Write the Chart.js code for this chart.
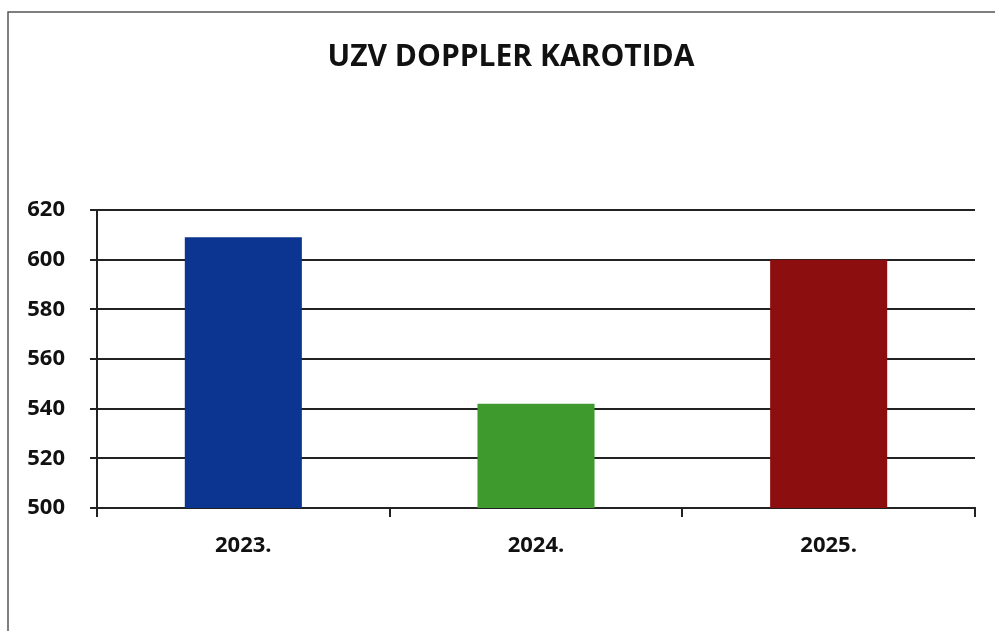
<!DOCTYPE html>
<html>
<head>
<meta charset="utf-8">
<script src="https://cdn.jsdelivr.net/npm/chart.js@4/dist/chart.umd.min.js"></script>
<style>
  html, body { margin: 0; padding: 0; background: #fff; }
  #wrap { position: absolute; left: 0; top: 0; width: 995px; height: 631px; }
</style>
</head>
<body>
<div id="wrap"><canvas id="c" width="995" height="631"></canvas></div>
<script>
const chartTitle = "UZV DOPPLER KAROTIDA";
const categories = ["2023.", "2024.", "2025."];
const values = [609, 542, 600];
const barColors = ["#0b3591", "#3e9a2c", "#8c0e0e"];
const yMin = 500, yMax = 620, yStep = 20;

const FONT = '"Open Sans", sans-serif';

const framePlugin = {
  id: 'frame',
  beforeDraw(chart) {
    const ctx = chart.ctx;
    ctx.save();
    ctx.strokeStyle = '#555';
    ctx.lineWidth = 1.5;
    ctx.beginPath();
    ctx.moveTo(8, 631);
    ctx.lineTo(8, 12);
    ctx.lineTo(995, 12);
    ctx.stroke();
    ctx.restore();
  }
};

new Chart(document.getElementById('c'), {
  type: 'bar',
  data: {
    labels: categories,
    datasets: [{
      data: values,
      backgroundColor: barColors,
      borderWidth: 0,
      categoryPercentage: 1,
      barPercentage: 0.4,
      yAxisID: 'y'
    }]
  },
  options: {
    responsive: false,
    animation: false,
    events: [],
    layout: { padding: { left: 0, right: -27, top: 0, bottom: 0 } },
    plugins: {
      legend: { display: false },
      tooltip: { enabled: false },
      title: {
        display: true,
        text: chartTitle,
        color: '#111',
        font: { family: FONT, size: 30, weight: 'bold' },
        padding: { top: 39, bottom: 135 }
      }
    },
    scales: {
      x: {
        offset: true,
        grid: { display: true, drawOnChartArea: false, offset: true, color: '#222', lineWidth: 2, tickLength: 9 },
        border: { display: true, color: '#222', width: 2 },
        ticks: { color: '#111', padding: 16, font: { family: FONT, size: 22, weight: 'bold' } },
        afterFit(s) { s.height = 123; }
      },
      y: {
        position: 'left',
        min: yMin, max: yMax,
        grid: { color: '#222', lineWidth: 2, tickLength: 7 },
        border: { display: true, color: '#222', width: 2 },
        ticks: { stepSize: yStep, color: '#111', padding: 25, font: { family: FONT, size: 22, weight: 'bold' } },
        afterFit(s) { s.width = 97; }
      },
      ySpacer: {
        type: 'linear',
        position: 'right',
        display: true,
        grid: { display: false, drawTicks: false },
        border: { display: false },
        ticks: { display: false },
        afterFit(s) { s.width = 47; }
      }
    }
  },
  plugins: [framePlugin]
});
</script>
</body>
</html>
